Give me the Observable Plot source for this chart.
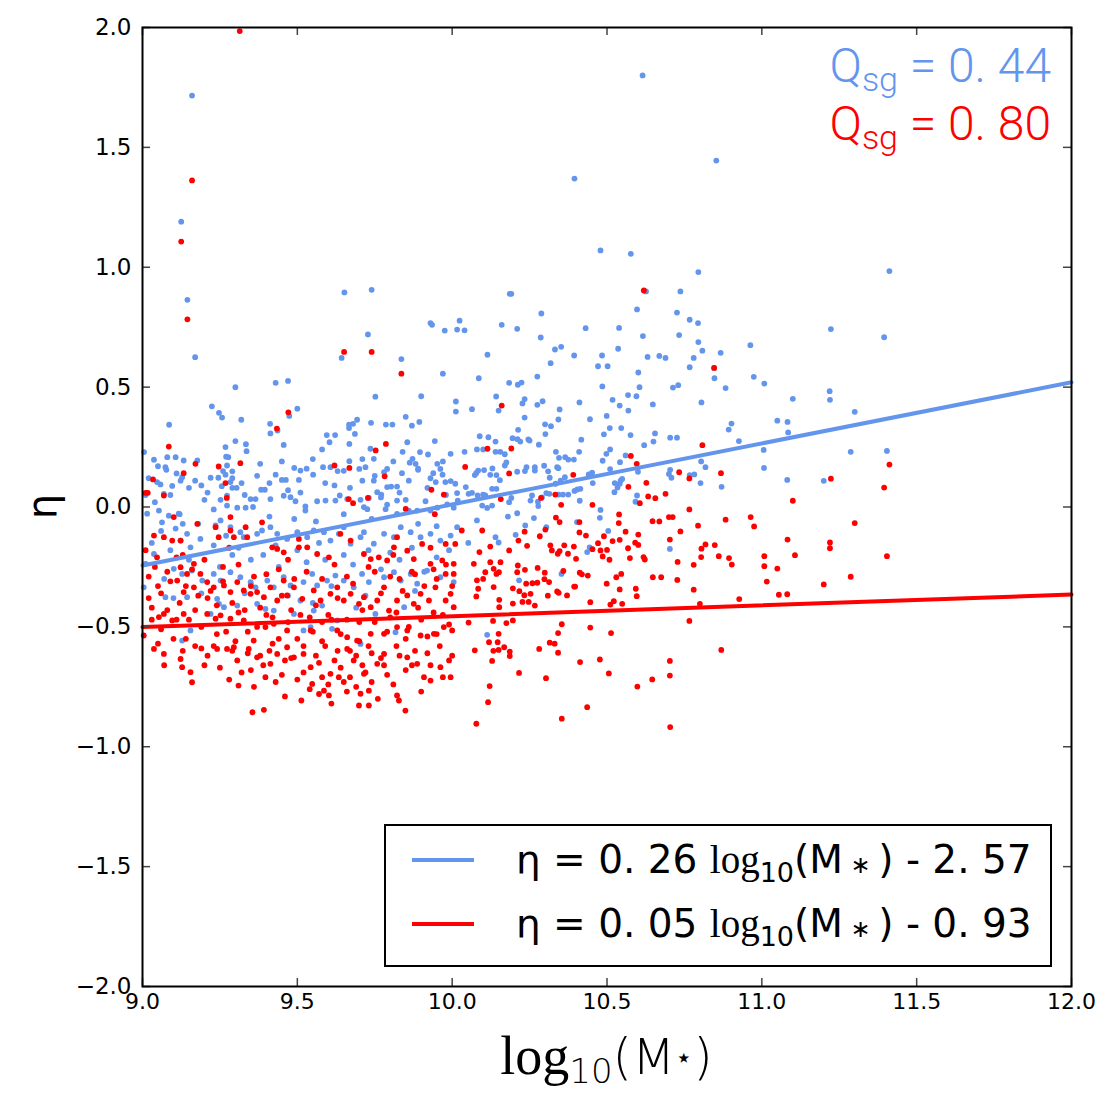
<!DOCTYPE html>
<html><head><meta charset="utf-8">
<script src="https://cdn.jsdelivr.net/npm/d3@7"></script>
<script src="https://cdn.jsdelivr.net/npm/@observablehq/plot@0.6"></script>
<style>body{margin:0;background:#fff;} svg{display:block}</style>
</head><body><div id="chart"></div>
<script>
// ---- data (log10(M*), eta) ----
const bluePoints = [
[9.16,1.716],[10.615,1.80],[10.395,1.37],[10.853,1.445],[9.125,1.19],[9.145,0.864],[9.17,0.625],[9.652,0.895],[9.74,0.906],[9.728,0.72],
[9.643,0.622],[9.836,0.617],[9.93,0.767],[9.935,0.76],[9.976,0.736],[10.016,0.74],[10.024,0.777],[9.97,0.556],[9.30,0.50],[9.43,0.518],
[9.47,0.526],[9.224,0.42],[9.247,0.393],[9.257,0.373],[9.319,0.364],[9.086,0.343],[9.412,0.347],[9.413,0.307],[9.436,0.319],[9.474,0.38],
[9.50,0.41],[9.752,0.46],[9.90,0.462],[10.012,0.44],[10.012,0.398],[9.85,0.376],[9.87,0.339],[9.894,0.355],[9.595,0.30],[9.622,0.30],
[9.667,0.343],[9.68,0.347],[9.693,0.364],[9.667,0.329],[9.686,0.305],[9.738,0.351],[9.786,0.344],[9.807,0.344],
[9.334,0.262],[9.30,0.275],[9.456,0.259],[9.604,0.27],[9.668,0.263],[9.736,0.243],[9.855,0.27],[9.944,0.275],[9.005,0.229],[9.037,0.197],
[9.08,0.208],[9.107,0.208],[9.133,0.194],[9.074,0.166],[9.077,0.155],[9.177,0.194],[9.268,0.25],[9.277,0.208],[9.273,0.173],[9.29,0.149],
[9.268,0.135],[9.336,0.233],[9.43,0.135],[9.45,0.113],[9.463,0.113],[9.505,0.113],[9.49,0.163],[9.51,0.152],[9.551,0.135],[9.583,0.166],
[9.607,0.166],[9.65,0.151],[9.668,0.191],[9.70,0.159],[9.72,0.166],[9.747,0.201],[9.747,0.11],[9.78,0.145],[9.79,0.159],[9.79,0.083],
[9.803,0.085],[9.822,0.085],[9.838,0.141],[9.863,0.185],[9.872,0.201],[9.882,0.18],[9.896,0.229],[9.89,0.155],[9.922,0.219],[9.952,0.18],
[9.939,0.141],[9.962,0.159],[9.969,0.135],[9.995,0.222],[9.947,0.104],[9.978,0.104],[9.995,0.108],[10.01,0.097],[10.016,0.058],[10.018,0.027],
[9.058,0.094],[9.047,0.104],[9.069,0.055],[9.096,0.088],[9.123,0.11],[9.128,0.124],[9.19,0.09],[9.22,0.122],[9.245,0.122],[9.256,0.087],
[9.252,0.03],[9.284,0.104],[9.29,0.08],[9.304,0.08],[9.273,0.047],[9.273,0.006],[9.306,-0.003],[9.333,-0.003],[9.349,0.033],[9.365,0.033],
[9.357,0.0],[9.383,0.072],[9.395,0.072],[9.413,0.033],[9.456,0.047],[9.478,0.041],[9.494,0.024],[9.526,0.002],[9.526,-0.015],[9.564,0.024],
[9.591,0.027],[9.623,0.027],[9.637,0.048],[9.661,0.033],[9.704,0.03],[9.731,0.038],[9.758,0.062],[9.771,0.052],[9.715,-0.001],[9.726,-0.009],
[9.785,-0.009],[9.822,-0.029],[9.86,-0.015],[9.822,0.027],[9.887,-0.015],[9.914,0.024],[9.93,-0.015],[9.952,-0.003],[9.984,0.011],[10.005,-0.003],
[9.015,-0.028],[9.053,-0.015],[9.063,-0.064],[9.085,-0.036],[9.117,-0.028],[9.107,-0.09],[9.144,-0.112],[9.123,-0.14],[9.187,-0.133],[9.155,-0.168],
[9.236,-0.077],[9.252,-0.056],[9.284,-0.084],[9.316,-0.105],[9.327,-0.126],[9.37,-0.112],[9.386,-0.098],[9.413,-0.084],[9.435,-0.112],[9.467,-0.133],
[9.50,-0.105],[9.532,-0.126],[9.553,-0.098],[9.586,-0.105],[9.607,-0.14],[9.634,-0.112],[9.65,-0.084],[9.672,-0.153],[9.704,-0.126],[9.715,-0.105],
[9.747,-0.153],[9.78,-0.112],[9.812,-0.126],[9.834,-0.084],[9.866,-0.105],[9.898,-0.126],[9.93,-0.112],[9.962,-0.14],[9.995,-0.119],[10.016,-0.084],
[9.037,-0.196],[9.01,-0.237],[9.101,-0.258],[9.128,-0.279],[9.16,-0.265],[9.193,-0.307],[9.23,-0.279],[9.252,-0.307],[9.284,-0.272],[9.316,-0.293],
[9.349,-0.313],[9.365,-0.335],[9.403,-0.307],[9.424,-0.335],[9.456,-0.293],[9.478,-0.327],[9.52,-0.313],[9.548,-0.279],[9.564,-0.327],[9.596,-0.307],
[9.623,-0.286],[9.65,-0.307],[9.682,-0.335],[9.709,-0.279],[9.731,-0.313],[9.78,-0.293],[9.812,-0.272],[9.834,-0.307],[9.866,-0.279],[9.887,-0.32],
[9.919,-0.265],[9.962,-0.293],[10.005,-0.313],
[9.004,-0.335],[9.074,-0.376],[9.144,-0.376],[9.241,-0.383],[9.247,-0.404],[9.263,-0.418],[9.306,-0.411],[9.37,-0.404],[9.397,-0.425],[9.424,-0.432],
[9.489,-0.446],[9.51,-0.39],[9.553,-0.432],[9.58,-0.411],[9.612,-0.508],[9.629,-0.473],[9.704,-0.571],[9.752,-0.446],[9.817,-0.522],[9.845,-0.418],
[9.128,-0.557],[9.155,-0.515],[9.22,-0.446],[9.52,-0.515],[9.543,-0.501],
[9.02,0.12],[9.04,0.02],[9.06,-0.1],[9.09,0.05],[9.12,-0.03],[9.15,0.08],[9.18,-0.07],[9.2,0.03],[9.23,-0.16],[9.26,0.15],
[9.29,-0.2],[9.32,0.1],[9.35,-0.22],[9.38,0.18],[9.41,-0.04],[9.44,-0.25],[9.47,0.07],[9.5,-0.18],[9.53,0.16],[9.56,-0.06],
[9.59,-0.22],[9.62,0.09],[9.65,-0.03],[9.68,-0.24],[9.71,0.11],[9.74,-0.05],[9.77,0.04],[9.8,-0.19],[9.83,0.06],[9.86,0.11],
[9.89,-0.07],[9.92,0.08],[9.95,-0.21],[9.98,0.05],[9.1,-0.38],[9.33,-0.36],[9.55,-0.4],[9.72,-0.37],[9.88,-0.35],[9.27,0.21],
[9.58,0.24],[9.84,0.23],
[9.01,0.05],[9.03,-0.15],[9.05,0.17],[9.07,-0.3],[9.09,-0.18],[9.11,0.14],[9.13,-0.07],[9.15,-0.22],[9.17,0.11],[9.19,-0.36],
[9.21,0.06],[9.23,-0.01],[9.25,-0.25],[9.27,-0.12],[9.29,0.12],[9.31,-0.17],[9.33,0.05],[9.35,-0.32],[9.37,0.13],[9.39,-0.2],
[9.41,0.1],[9.43,-0.16],[9.45,0.19],[9.47,-0.37],[9.49,-0.05],[9.51,0.06],[9.53,-0.23],[9.55,0.2],[9.57,-0.15],[9.59,0.1],
[9.61,-0.33],[9.63,0.15],[9.65,-0.2],[9.67,0.08],[9.69,-0.42],[9.71,0.2],[9.73,-0.18],[9.75,0.13],[9.77,-0.26],[9.79,0.01],
[9.81,0.19],[9.83,-0.22],[9.85,0.03],[9.87,-0.17],[9.89,0.16],[9.91,-0.27],[9.93,0.12],[9.95,-0.08],[9.97,0.19],[9.99,-0.18],
[10.479,1.07],[10.577,1.056],[10.795,0.98],[10.626,0.899],[10.737,0.899],[10.186,0.889],[10.191,0.889],[10.288,0.807],[10.597,0.824],[10.726,0.811],
[10.767,0.781],[10.794,0.767],[10.733,0.717],[10.616,0.713],[10.795,0.688],[10.808,0.652],[10.963,0.675],[10.867,0.643],[10.04,0.737],[10.16,0.76],
[10.21,0.743],[10.431,0.746],[10.539,0.747],[10.286,0.707],[10.332,0.657],[10.352,0.668],[10.318,0.60],[10.394,0.632],[10.114,0.635],[10.471,0.587],
[10.502,0.587],[10.484,0.632],[10.536,0.66],[10.631,0.626],[10.669,0.63],[10.689,0.622],[10.78,0.622],[10.767,0.583],[10.846,0.58],[10.847,0.537],
[10.974,0.543],[10.883,0.496],[10.086,0.537],[10.184,0.518],[10.212,0.51],[10.224,0.519],[10.275,0.544],[10.485,0.503],[10.601,0.561],[10.605,0.50],
[10.595,0.462],[10.713,0.498],[10.73,0.508],[10.568,0.467],[10.518,0.447],[10.541,0.423],[10.569,0.402],[10.576,0.30],[10.648,0.428],[10.805,0.436],
[10.142,0.461],[10.15,0.402],[10.227,0.432],[10.234,0.45],[10.275,0.426],[10.292,0.441],[10.064,0.408],[10.347,0.407],[10.343,0.365],[10.411,0.436],
[10.445,0.366],[10.499,0.38],[10.509,0.329],[10.49,0.303],[10.546,0.329],[10.234,0.373],[10.213,0.322],[10.3,0.345],[10.319,0.337],[10.301,0.304],
[10.246,0.282],[10.417,0.281],[10.089,0.295],[10.117,0.291],[10.195,0.287],[10.211,0.283],[10.893,0.323],[10.902,0.348],[10.926,0.275],[10.655,0.307],
[10.704,0.289],[10.726,0.289],
[10.04,0.23],[10.08,0.24],[10.1,0.24],[10.14,0.23],[10.155,0.23],[10.17,0.22],[10.14,0.273],[10.22,0.273],[10.25,0.277],[10.28,0.26],
[10.62,0.258],[10.65,0.273],[10.335,0.23],[10.345,0.205],[10.365,0.208],[10.375,0.198],[10.393,0.198],[10.41,0.23],[10.486,0.193],[10.498,0.222],
[10.51,0.24],[10.56,0.215],[10.6,0.147],[10.704,0.155],[10.708,0.122],[10.767,0.133],[10.782,0.136],[10.804,0.19],[10.818,0.166],[10.802,0.1],
[10.87,0.084],[10.064,0.059],[10.082,0.048],[10.1,0.052],[10.073,0.133],[10.078,0.142],[10.084,0.152],[10.103,0.154],[10.13,0.161],[10.123,0.134],
[10.143,0.133],[10.154,0.112],[10.17,0.173],[10.175,0.186],[10.21,0.147],[10.235,0.15],[10.24,0.166],[10.267,0.166],[10.267,0.152],[10.297,0.172],
[10.31,0.149],[10.315,0.122],[10.339,0.166],[10.343,0.162],[10.364,0.124],[10.35,0.11],[10.334,0.097],[10.452,0.143],[10.441,0.136],[10.51,0.158],
[10.542,0.187],[10.525,0.1],[10.544,0.11],[10.549,0.117],[10.044,0.083],[10.053,0.055],[10.107,0.048],[10.129,0.076],[10.143,0.076],[10.129,0.006],
[10.113,-0.004],[10.097,0.006],[10.191,0.038],[10.184,0.02],[10.258,0.048],[10.253,0.027],[10.277,0.022],[10.278,0.004],[10.29,0.04],[10.304,0.058],
[10.314,0.055],[10.344,0.052],[10.358,0.052],[10.375,0.052],[10.395,0.067],[10.404,0.073],[10.414,0.076],[10.454,0.1],[10.412,0.026],[10.479,-0.012],
[10.477,-0.045],[10.524,0.062],[10.534,0.081],[10.541,0.097],[10.592,0.022],[10.597,0.048],[10.7,0.138],[10.703,-0.175],[10.113,-0.533],[10.216,-0.306],
[10.353,-0.279],[10.403,-0.063],[10.504,-0.1],[10.444,-0.168],[10.436,-0.188],[10.205,-0.116],[10.236,-0.077],[10.264,-0.046],[10.304,-0.084],[10.15,-0.148],
[10.052,-0.15],[10.14,-0.126],[10.08,-0.056],[10.21,-0.026],[10.18,-0.04],
[11.412,0.984],[11.223,0.742],[11.395,0.708],[11.008,0.515],[11.10,0.451],[11.219,0.483],[11.22,0.447],[11.30,0.397],[11.05,0.36],[11.083,0.355],
[11.085,0.311],[11.006,0.238],[11.287,0.23],[11.404,0.234],[11.007,0.163],[11.082,0.113],[11.20,0.109]
];

const redPoints = [
[9.314,1.985],[9.16,1.362],[9.125,1.107],[9.145,0.783],[9.651,0.647],[9.74,0.647],[9.836,0.556],[9.434,0.327],[9.471,0.395],[10.619,0.903],
[10.846,0.58],[10.16,0.423],
[9.753,0.236],[9.786,0.263],[9.668,0.163],[9.62,0.173],[9.782,0.128],[9.728,0.038],[9.666,0.033],[9.68,0.016],[9.933,0.072],[9.973,0.052],
[9.85,-0.008],[9.944,-0.03],[9.085,0.252],[9.171,0.18],[9.133,0.141],[9.246,0.169],[9.316,0.183],[9.268,0.1],[9.034,0.115],[9.01,0.059],
[9.017,0.059],[9.069,0.048],[9.272,0.038],
[9.101,-0.042],[9.069,-0.126],[9.037,-0.119],[9.096,-0.14],[9.123,-0.14],[9.177,-0.07],[9.236,-0.084],[9.246,-0.126],[9.284,-0.098],[9.284,-0.042],
[9.295,-0.126],[9.333,-0.084],[9.338,-0.126],[9.386,-0.064],[9.419,-0.168],[9.435,-0.175],[9.456,-0.189],[9.505,-0.168],[9.505,-0.133],[9.532,-0.168],
[9.564,-0.196],[9.602,-0.21],[9.639,-0.112],[9.672,-0.14],[9.715,-0.196],[9.737,-0.217],[9.763,-0.21],[9.79,-0.223],[9.812,-0.168],[9.822,-0.126],
[9.855,-0.182],[9.876,-0.217],[9.903,-0.154],[9.93,-0.237],[9.968,-0.223],[9.979,-0.154],[10.005,-0.237],[10.01,-0.154],[9.979,-0.279],[10.005,-0.279],
[9.047,-0.21],[9.123,-0.251],[9.144,-0.279],[9.166,-0.237],[9.187,-0.279],[9.112,-0.307],[9.133,-0.355],[9.166,-0.335],[9.209,-0.313],[9.23,-0.335],
[9.263,-0.327],[9.284,-0.355],[9.306,-0.313],[9.327,-0.348],[9.349,-0.362],[9.37,-0.355],[9.392,-0.376],[9.413,-0.335],[9.435,-0.39],[9.456,-0.307],
[9.467,-0.369],[9.489,-0.335],[9.516,-0.383],[9.553,-0.348],[9.575,-0.39],[9.607,-0.362],[9.629,-0.335],[9.65,-0.39],[9.672,-0.362],[9.699,-0.404],
[9.715,-0.376],[9.737,-0.418],[9.758,-0.39],[9.78,-0.335],[9.796,-0.432],[9.822,-0.39],[9.855,-0.369],[9.876,-0.404],[9.898,-0.362],[9.925,-0.39],
[9.946,-0.335],[9.979,-0.39],[9.995,-0.362],[10.005,-0.418],
[9.053,-0.459],[9.069,-0.446],[9.096,-0.473],[9.133,-0.446],[9.209,-0.446],[9.236,-0.466],[9.252,-0.452],[9.284,-0.466],[9.327,-0.473],[9.397,-0.501],
[9.424,-0.487],[9.467,-0.515],[9.543,-0.515],[9.58,-0.48],[9.629,-0.515],[9.661,-0.543],[9.693,-0.557],[9.737,-0.529],[9.78,-0.529],[9.822,-0.501],
[9.855,-0.515],[9.898,-0.536],[9.941,-0.529],[9.973,-0.501],[10.0,-0.515],
[9.004,-0.536],[9.037,-0.592],[9.069,-0.613],[9.123,-0.634],[9.128,-0.668],[9.155,-0.689],[9.16,-0.731],[9.241,-0.592],[9.273,-0.592],[9.295,-0.585],
[9.306,-0.64],[9.343,-0.592],[9.359,-0.557],[9.37,-0.627],[9.397,-0.71],[9.413,-0.654],[9.435,-0.613],[9.467,-0.585],[9.489,-0.627],[9.52,-0.613],
[9.543,-0.668],[9.548,-0.738],[9.58,-0.71],[9.586,-0.766],[9.602,-0.786],[9.607,-0.696],[9.634,-0.71],[9.661,-0.592],[9.682,-0.64],[9.704,-0.779],
[9.715,-0.696],[9.731,-0.766],[9.758,-0.654],[9.78,-0.613],[9.822,-0.786],[9.828,-0.807],[9.849,-0.849],[9.855,-0.627],[9.887,-0.654],[9.909,-0.71],
[9.93,-0.724],[9.962,-0.668],[9.995,-0.71],[9.731,-0.828],[9.699,-0.828],[9.513,-0.807],[9.392,-0.846],[9.355,-0.856],[9.31,-0.745],
[9.02,-0.29],[9.05,-0.33],[9.03,-0.42],[9.06,-0.51],[9.08,-0.27],[9.11,-0.47],[9.14,-0.55],[9.17,-0.43],[9.19,-0.59],[9.21,-0.38],
[9.24,-0.53],[9.26,-0.25],[9.29,-0.6],[9.31,-0.44],[9.34,-0.52],[9.36,-0.29],[9.38,-0.62],[9.4,-0.45],[9.42,-0.57],[9.44,-0.26],
[9.46,-0.64],[9.48,-0.43],[9.5,-0.55],[9.52,-0.69],[9.54,-0.46],[9.56,-0.62],[9.58,-0.56],[9.6,-0.74],[9.61,-0.47],[9.63,-0.6],
[9.64,-0.67],[9.66,-0.29],[9.67,-0.71],[9.69,-0.62],[9.7,-0.48],[9.71,-0.66],[9.73,-0.58],[9.74,-0.73],[9.75,-0.27],[9.77,-0.63],
[9.79,-0.7],[9.8,-0.46],[9.82,-0.58],[9.83,-0.3],[9.85,-0.55],[9.87,-0.66],[9.88,-0.28],[9.9,-0.47],[9.92,-0.61],[9.94,-0.26],
[9.95,-0.53],[9.97,-0.45],[9.99,-0.64],[10.0,-0.33],[9.13,-0.2],[9.28,-0.17],[9.47,-0.22],[9.62,-0.24],[9.81,-0.2],[9.93,-0.17],
[9.57,-0.78],[9.66,-0.77],[9.45,-0.7],[9.35,-0.68],[9.2,-0.66],
[9.01,-0.18],[9.02,-0.38],[9.03,-0.47],[9.04,-0.25],[9.05,-0.57],[9.06,-0.36],[9.07,-0.66],[9.08,-0.43],[9.09,-0.31],[9.1,-0.55],
[9.11,-0.21],[9.12,-0.4],[9.13,-0.6],[9.14,-0.33],[9.15,-0.47],[9.16,-0.26],[9.17,-0.58],[9.18,-0.37],[9.19,-0.5],[9.2,-0.22],
[9.21,-0.62],[9.22,-0.35],[9.23,-0.58],[9.24,-0.41],[9.25,-0.67],[9.26,-0.31],[9.27,-0.52],[9.28,-0.72],[9.29,-0.4],[9.3,-0.56],
[9.31,-0.24],[9.32,-0.69],[9.33,-0.43],[9.34,-0.61],[9.35,-0.33],[9.36,-0.75],[9.37,-0.5],[9.38,-0.42],[9.39,-0.66],[9.4,-0.28],
[9.41,-0.6],[9.42,-0.46],[9.43,-0.73],[9.44,-0.55],[9.45,-0.37],[9.46,-0.79],[9.47,-0.48],[9.48,-0.63],[9.49,-0.3],[9.5,-0.72],
[9.51,-0.45],[9.52,-0.58],[9.53,-0.27],[9.54,-0.76],[9.55,-0.52],[9.56,-0.41],[9.57,-0.65],[9.58,-0.3],[9.59,-0.58],[9.6,-0.45],
[9.61,-0.82],[9.62,-0.64],[9.63,-0.38],[9.64,-0.53],[9.65,-0.73],[9.66,-0.47],[9.67,-0.6],[9.68,-0.32],[9.69,-0.75],[9.7,-0.56],
[9.71,-0.43],[9.72,-0.69],[9.73,-0.25],[9.74,-0.61],[9.75,-0.48],[9.76,-0.8],[9.77,-0.36],[9.78,-0.66],[9.79,-0.52],[9.8,-0.29],
[9.81,-0.74],[9.82,-0.44],[9.83,-0.62],[9.84,-0.35],[9.85,-0.68],[9.86,-0.5],[9.87,-0.27],[9.88,-0.6],[9.89,-0.42],[9.9,-0.77],
[9.91,-0.33],[9.92,-0.54],[9.93,-0.66],[9.94,-0.44],[9.95,-0.3],[9.96,-0.58],[9.97,-0.71],[9.98,-0.24],[9.99,-0.49],[10.0,-0.62],
[10.114,0.243],[10.191,0.244],[10.577,0.213],[10.596,0.18],[10.733,0.145],[10.766,0.119],[10.868,0.141],[10.808,0.258],[10.042,0.167],[10.184,0.14],
[10.391,0.134],[10.157,0.033],[10.287,0.038],[10.333,0.052],[10.352,0.009],[10.453,0.009],[10.569,0.084],[10.606,0.016],[10.627,0.101],[10.633,0.044],
[10.656,0.037],[10.689,0.055],[10.7,-0.042],[10.712,-0.042],[10.647,-0.059],[10.669,-0.06],
[10.031,-0.098],[10.097,-0.098],[10.088,-0.188],[10.123,-0.165],[10.184,-0.181],[10.214,-0.14],[10.234,-0.103],[10.242,-0.162],[10.283,-0.122],[10.301,-0.094],
[10.317,-0.16],[10.322,-0.181],[10.341,-0.195],[10.347,-0.184],[10.362,-0.16],[10.374,-0.195],[10.393,-0.165],[10.4,-0.216],[10.335,-0.044],[10.347,-0.063],
[10.411,-0.063],[10.411,-0.106],[10.432,-0.119],[10.453,-0.176],[10.471,-0.151],[10.479,-0.181],[10.486,-0.206],[10.49,-0.122],[10.5,-0.179],[10.508,-0.22],
[10.518,-0.142],[10.539,-0.031],[10.538,-0.067],[10.541,-0.137],[10.56,-0.103],[10.568,-0.172],[10.574,-0.213],[10.591,-0.149],[10.601,-0.115],[10.601,-0.158],
[10.618,-0.209],[10.622,-0.219],[10.648,-0.293],[10.675,-0.293],[10.703,-0.136],[10.728,-0.229],[10.727,-0.304],[10.737,-0.102],[10.766,-0.01],[10.794,-0.078],
[10.78,-0.241],[10.78,-0.345],[10.8,-0.404],[10.805,-0.174],[10.804,-0.209],[10.818,-0.156],[10.848,-0.159],[10.861,-0.205],[10.883,-0.053],[10.894,-0.213],
[10.903,-0.24],[10.927,-0.384],[10.869,-0.596],[10.766,-0.475],[10.703,-0.642],[10.703,-0.703],[10.646,-0.719],[10.598,-0.749],[10.704,-0.918],[10.506,-0.694],
[10.477,-0.636],[10.513,-0.526],[10.446,-0.503],[10.413,-0.647],[10.436,-0.835],[10.354,-0.883],[10.303,-0.714],[10.281,-0.592],[10.315,-0.566],[10.331,-0.57],
[10.342,-0.608],[10.342,-0.526],[10.354,-0.489],[10.216,-0.692],[10.121,-0.747],[10.116,-0.814],[10.078,-0.904],[10.073,-0.598],[10.129,-0.642],[10.133,-0.6],
[10.15,-0.596],[10.119,-0.564],[10.147,-0.564],[10.168,-0.585],[10.186,-0.603],[10.186,-0.622],[10.15,-0.529],[10.196,-0.473],[10.175,-0.484],[10.132,-0.475],
[10.053,-0.482],
[10.07,-0.237],[10.08,-0.306],[10.1,-0.3],[10.084,-0.341],[10.078,-0.373],[10.107,-0.272],[10.123,-0.23],[10.134,-0.258],[10.143,-0.279],[10.151,-0.272],
[10.156,-0.23],[10.134,-0.334],[10.152,-0.387],[10.152,-0.418],[10.196,-0.339],[10.196,-0.403],[10.212,-0.244],[10.21,-0.272],[10.217,-0.351],[10.227,-0.396],
[10.233,-0.368],[10.239,-0.32],[10.235,-0.262],[10.247,-0.396],[10.253,-0.362],[10.259,-0.318],[10.267,-0.411],[10.275,-0.316],[10.276,-0.254],[10.299,-0.274],
[10.298,-0.301],[10.309,-0.37],[10.313,-0.313],[10.339,-0.352],[10.344,-0.358],[10.359,-0.267],[10.371,-0.369],[10.394,-0.332],[10.397,-0.332],[10.412,-0.274],
[10.419,-0.281],[10.438,-0.286],[10.446,-0.397],[10.499,-0.32],[10.511,-0.407],[10.522,-0.393],[10.53,-0.293],[10.541,-0.344],[10.549,-0.404],[10.546,-0.279],
[10.593,-0.341],[10.596,-0.372],
[11.412,0.177],[11.223,0.118],[11.395,0.081],[11.10,0.026],[10.964,-0.042],[10.975,-0.081],[11.30,-0.067],[11.083,-0.136],[11.22,-0.148],[11.22,-0.172],
[11.008,-0.205],[11.107,-0.201],[11.404,-0.205],[11.008,-0.247],[11.05,-0.257],[11.016,-0.311],[11.287,-0.291],[11.20,-0.323],[11.055,-0.366],[11.082,-0.364]
];

// fitted lines, endpoints
const blueFit = [[9, -0.244], [12, 0.52]];
const redFit = [[9, -0.501], [12, -0.365]];

const xTicks = [9.0, 9.5, 10.0, 10.5, 11.0, 11.5, 12.0];
const yTicks = [-2.0, -1.5, -1.0, -0.5, 0.0, 0.5, 1.0, 1.5, 2.0];
const seriesColors = ["#6495ED", "#FF0000"];
const fitSlopes = ["0. 26", "0. 05"];
const fitIntercepts = ["2. 57", "0. 93"];
const qsgValues = ["0. 44", "0. 80"];

// ---- layout ----
const W = 1115, H = 1100, mL = 142, mR = 44, mT = 27, mB = 114;
const pw = W - mL - mR, ph = H - mT - mB;

const chart = Plot.plot({
  width: W, height: H,
  marginLeft: mL, marginRight: mR, marginTop: mT, marginBottom: mB,
  x: {domain: [9, 12]},
  y: {domain: [-2, 2]},
  style: {fontFamily: "DejaVu Sans", fontSize: "22px", color: "black", background: "white"},
  marks: [
    Plot.dot(bluePoints, {x: d => d[0], y: d => d[1], r: 2.9, fill: seriesColors[0], stroke: "none"}),
    Plot.dot(redPoints, {x: d => d[0], y: d => d[1], r: 2.9, fill: seriesColors[1], stroke: "none"}),
    Plot.line(blueFit, {x: d => d[0], y: d => d[1], stroke: seriesColors[0], strokeWidth: 4}),
    Plot.line(redFit, {x: d => d[0], y: d => d[1], stroke: seriesColors[1], strokeWidth: 4}),
    Plot.tickY(yTicks, {y: d => d, insetRight: pw - 8, stroke: "#444", strokeWidth: 1.5}),
    Plot.tickY(yTicks, {y: d => d, insetLeft: pw - 8, stroke: "#444", strokeWidth: 1.5}),
    Plot.tickX(xTicks, {x: d => d, insetTop: ph - 8, stroke: "#444", strokeWidth: 1.5}),
    Plot.tickX(xTicks, {x: d => d, insetBottom: ph - 8, stroke: "#444", strokeWidth: 1.5}),
    Plot.axisY({ticks: yTicks, tickSize: 0, tickPadding: 11, tickFormat: d3.format(".1f"), label: null, fontSize: 23}),
    Plot.axisX({ticks: xTicks, tickSize: 0, tickPadding: 7, tickFormat: d3.format(".1f"), label: null, fontSize: 22}),
    Plot.frame({stroke: "black", strokeWidth: 2})
  ]
});
document.getElementById("chart").appendChild(chart);

const svg = d3.select(chart);
const right = W - mR, bottom = H - mB;

// y label
svg.append("text")
  .attr("transform", `translate(56,${mT + ph / 2}) rotate(-90)`)
  .attr("text-anchor", "middle")
  .attr("font-family", "DejaVu Sans").attr("font-size", 40).attr("fill", "black")
  .text("η");

// x label
const xl = svg.append("text")
  .attr("x", mL + pw / 2).attr("y", H - 26)
  .attr("text-anchor", "middle").attr("fill", "black")
  .attr("font-family", "DejaVu Sans").attr("font-size", 50).attr("font-weight", 300);
xl.append("tspan").attr("font-family", "Liberation Serif").attr("font-size", 54).text("log");
xl.append("tspan").attr("font-size", 34).attr("dy", 9).text("10");
xl.append("tspan").attr("dy", -9).text("(M");
xl.append("tspan").attr("font-size", 28).attr("dy", -7).text("⋆");
xl.append("tspan").attr("dy", 7).text(")");

// Qsg annotations
qsgValues.forEach((v, i) => {
  const t = svg.append("text")
    .attr("x", right - 20).attr("y", mT + 55 + i * 58)
    .attr("text-anchor", "end").attr("fill", seriesColors[i])
    .attr("font-family", "Roboto").attr("font-weight", 300).attr("font-size", 48);
  t.append("tspan").text("Q");
  t.append("tspan").attr("font-size", 34).attr("dy", 9).text("sg");
  t.append("tspan").attr("dy", -9).text(" = " + v);
});

// legend
const lg = svg.append("g");
lg.append("rect")
  .attr("x", 385).attr("y", bottom - 20 - 141).attr("width", right - 20 - 385).attr("height", 141)
  .attr("fill", "white").attr("stroke", "black").attr("stroke-width", 2);
fitSlopes.forEach((s, i) => {
  const cy = bottom - 20 - 141 + 35 + i * 64;
  lg.append("line").attr("x1", 412).attr("x2", 474).attr("y1", cy).attr("y2", cy)
    .attr("stroke", seriesColors[i]).attr("stroke-width", 4);
  const t = lg.append("text").attr("x", 516).attr("y", cy + 13).attr("text-anchor", "start")
    .attr("font-family", "DejaVu Sans").attr("font-size", 39).attr("fill", "black");
  t.append("tspan").text("η = " + s + " ");
  t.append("tspan").attr("font-family", "Liberation Serif").text("log");
  t.append("tspan").attr("font-size", 27).attr("dy", 9).text("10");
  t.append("tspan").attr("dy", -9).text("(M");
  t.append("tspan").attr("font-size", 24).text(" ∗ ");
  t.append("tspan").text(") - " + fitIntercepts[i]);
});
</script>
</body></html>
